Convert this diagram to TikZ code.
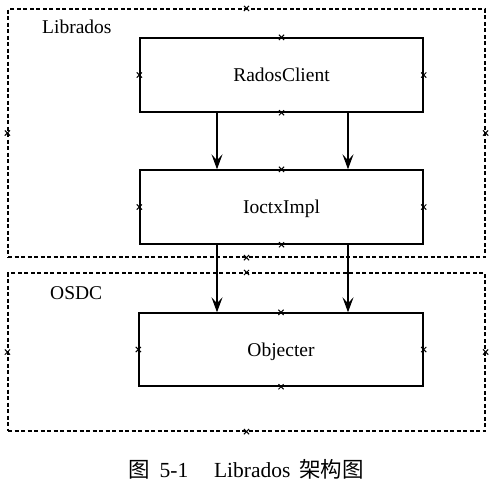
\documentclass[tikz,border=0pt]{standalone}
\usepackage{fontspec}
\setmainfont{Liberation Serif}
\newfontfamily\cjk{Noto Sans CJK SC}
\usetikzlibrary{arrows.meta}
\begin{document}
\begin{tikzpicture}[x=1pt,y=-1pt,
  every node/.style={font=\fontsize{19.5}{23}\selectfont, inner sep=0pt},
  solidbox/.style={draw, line width=1.4pt, text height=13pt, text depth=0pt},
  groupbox/.style={draw, line width=1.1pt, dash pattern=on 4pt off 2.5pt},
  arr/.style={line width=1.4pt, -{Stealth[length=15pt,width=11pt,inset=6pt]}},
  handle/.style={line width=1pt}]
\useasboundingbox (0,0) rectangle (493,483);
% group boxes
\node[groupbox, minimum width=477pt, minimum height=248pt] (lib) at (246.5,133) {};
\node[groupbox, minimum width=477pt, minimum height=158pt] (osdc) at (246.5,352) {};
\node[anchor=base west] (libl) at (42,33) {Librados};
\node[anchor=base west] (osdcl) at (50,299) {OSDC};
% inner boxes
\node[solidbox, minimum width=283pt, minimum height=74pt] (rc) at (281.5,75) {RadosClient};
\node[solidbox, minimum width=283pt, minimum height=74pt] (ic) at (281.5,207) {IoctxImpl};
\node[solidbox, minimum width=284pt, minimum height=73pt] (ob) at (281,349.5) {Objecter};
% arrows
\coordinate (xa) at (217,0);
\coordinate (xb) at (348,0);
\draw[arr] (rc.south -| xa) -- (ic.north -| xa);
\draw[arr] (rc.south -| xb) -- (ic.north -| xb);
\draw[arr] (ic.south -| xa) -- (ob.north -| xa);
\draw[arr] (ic.south -| xb) -- (ob.north -| xb);
% handles
\foreach \n in {lib,osdc,rc,ic,ob}{
  \foreach \a in {north,south,east,west}{
    \draw[handle] ([shift={(-2.6,-2.6)}]\n.\a) -- ([shift={(2.6,2.6)}]\n.\a);
    \draw[handle] ([shift={(-2.6,2.6)}]\n.\a) -- ([shift={(2.6,-2.6)}]\n.\a);
  }
}
% caption
\node[anchor=base, font=\fontsize{21.5}{25}\selectfont] (cap) at (246,477) {{\cjk 图}\hspace{0.45em}5-1\hspace{1.2em}Librados\hspace{0.4em}{\cjk 架构图}};
\end{tikzpicture}
\end{document}
